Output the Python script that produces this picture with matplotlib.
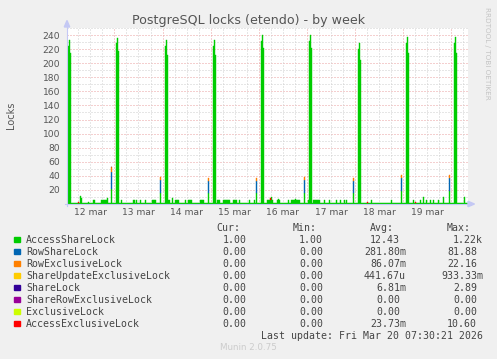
import numpy as np
import matplotlib
matplotlib.use('Agg')
import matplotlib.pyplot as plt
from matplotlib.patches import Polygon, Rectangle
from matplotlib.lines import Line2D

# ---------------- data ----------------
day_labels = ['12 mar', '13 mar', '14 mar', '15 mar', '16 mar', '17 mar', '18 mar', '19 mar']
day_noon_hours = [12, 36, 60, 84, 108, 132, 156, 180]          # hours since 12 mar 00:00
y_ticks = [20, 40, 60, 80, 100, 120, 140, 160, 180, 200, 220, 240]

access_base = 1.0
# AccessShareLock: nightly peaks and small daytime bumps (hour, value)
access_hours = [1.0, 1.5, 2.0, 25.0, 25.5, 26.0, 49.5, 50.0, 50.5, 73.5, 74.0, 74.5,
                97.5, 98.0, 98.5, 121.5, 122.0, 122.5, 145.5, 146.0, 146.5,
                169.5, 170.0, 170.5, 193.5, 194.0, 194.5,
                7.0, 7.5, 11.0, 13.5, 14.0, 17.5, 18.0, 18.5, 19.0, 19.5, 20.0, 20.5,
                27.5, 33.5, 34.0, 35.0, 37.0, 39.5, 43.0, 43.5, 44.0, 44.5,
                51.0, 51.5, 53.0, 54.5, 55.0, 55.5, 56.0, 59.5, 61.0, 61.5, 62.0, 62.5,
                67.0, 67.5, 68.0, 68.5, 75.5, 76.0, 76.5, 78.5, 79.0, 79.5, 80.0, 80.5, 81.0, 81.5,
                83.5, 84.0, 84.5, 85.0, 86.5, 91.5, 94.0,
                100.5, 101.0, 101.5, 102.0, 102.5, 103.0, 105.5, 106.0, 106.5,
                111.0, 112.5, 113.0, 113.5, 114.0, 114.5, 115.0, 115.5, 116.0, 116.5, 121.0,
                123.5, 124.0, 124.5, 125.0, 125.5, 126.0, 126.5, 129.0, 131.5, 135.0, 137.0,
                139.0, 140.0, 152.0, 162.0, 173.0, 176.5, 178.0, 179.5, 181.5, 183.0, 185.5,
                188.0, 198.5]
access_values = [224, 233, 215, 228, 236, 218, 225, 233, 212, 225, 233, 212,
                 232, 240, 222, 232, 240, 222, 220, 228, 205,
                 229, 237, 215, 229, 237, 215,
                 11, 8, 3, 5, 5, 5, 5, 5, 5, 5, 6, 8,
                 5, 5, 5, 5, 5, 5, 5, 6, 5, 5,
                 5, 5, 9, 5, 5, 5, 5, 6, 5, 5, 5, 5,
                 6, 6, 6, 6, 5, 5, 5, 5, 5, 5, 5, 5, 5, 5,
                 5, 5, 5, 5, 5, 6, 5,
                 6, 6, 6, 6, 10, 6, 5, 7, 5,
                 5, 5, 5, 5, 5, 7, 5, 5, 5, 5, 5,
                 5, 5, 5, 5, 5, 5, 6, 5, 5, 5, 5,
                 5, 5, 5, 5, 5, 5, 10, 6, 5, 6, 5,
                 10, 10]
# late-evening maintenance peaks (stacked on AccessShareLock)
maint_hours = [22.5, 47.0, 71.0, 95.0, 119.0, 143.0, 167.0, 191.0]
maint_access = [22, 16, 16, 16, 16, 16, 18, 18]
rowshare_values = [24, 18, 17, 17, 18, 17, 19, 19]
rowexcl_values = [6, 4, 4, 4, 4, 4, 4, 4]
sharelock_values = [1, 0, 0, 0, 0, 0, 0, 0]
accessexcl_hours = [6.0, 102.0, 150.0, 174.0]
accessexcl_values = [2, 2, 2, 2]

names = ['AccessShareLock', 'RowShareLock', 'RowExclusiveLock', 'ShareUpdateExclusiveLock',
         'ShareLock', 'ShareRowExclusiveLock', 'ExclusiveLock', 'AccessExclusiveLock']
colors = ['#00CC00', '#0066B3', '#FF8000', '#FFCC00', '#330099', '#990099', '#CCFF00', '#FF0000']
cur_vals = ['1.00', '0.00', '0.00', '0.00', '0.00', '0.00', '0.00', '0.00']
min_vals = ['1.00', '0.00', '0.00', '0.00', '0.00', '0.00', '0.00', '0.00']
avg_vals = ['12.43', '281.80m', '86.07m', '441.67u', '6.81m', '0.00', '0.00', '23.73m']
max_vals = ['1.22k', '81.88', '22.16', '933.33m', '2.89', '0.00', '0.00', '10.60']

# ---------------- build series ----------------
times = np.arange(0.5, 200.01, 0.5)
n = len(times)
def idx(h):
    return int(round((h - 0.5) / 0.5))

series = [np.zeros(n) for _ in names]
series[0][:] = access_base
for h, v in zip(access_hours, access_values):
    series[0][idx(h)] = v
for h, a, r, e, s in zip(maint_hours, maint_access, rowshare_values, rowexcl_values, sharelock_values):
    series[0][idx(h)] = a
    series[1][idx(h)] = r
    series[2][idx(h)] = e
    series[4][idx(h)] = s
for h, v in zip(accessexcl_hours, accessexcl_values):
    series[7][idx(h)] = v

# ---------------- figure ----------------
W, H = 497, 359
BG = '#F0F0F0'
fig = plt.figure(figsize=(W / 100, H / 100), dpi=100, facecolor=BG)
def fx(x):
    return x / W
def fy(y):
    return 1 - y / H

L, R, B, T = 67, 468, 204, 28
ax = fig.add_axes([fx(L), fy(B), fx(R) - fx(L), fy(T) - fy(B)])
ax.set_facecolor('white')
xmin, xmax = 0.35, 200.35
ax.set_xlim(xmin, xmax)
ax.set_ylim(0, 250)

# grid
minor_c = '#CFCFCF'
major_c = '#EBA0A0'
ls = (0, (1, 2))
for v in range(10, 251, 10):
    ax.axhline(v, color=major_c if v % 20 == 0 else minor_c, lw=0.72, ls=ls, zorder=1)
for h in range(6, 201, 6):
    ax.axvline(h, color=major_c if h % 24 == 0 else minor_c, lw=0.72, ls=ls, zorder=1)

# stacked areas (one column per 30-minute sample)
lower = np.zeros(n)
for s, c in zip(series, colors):
    m = s > 0
    if m.any():
        ax.bar(times[m], s[m], width=0.5, bottom=lower[m], color=c, edgecolor=c,
               linewidth=0.3, zorder=3)
    lower = lower + s

for sp in ax.spines.values():
    sp.set_visible(False)

ax.set_yticks(y_ticks)
ax.set_yticklabels([str(v) for v in y_ticks])
ax.set_xticks(day_noon_hours)
ax.set_xticklabels(day_labels)
ax.tick_params(axis='both', length=0, labelsize=6.6, colors='#555555')
ax.tick_params(axis='y', pad=5)
ax.tick_params(axis='x', pad=3)

# axis lines and arrows
axis_c = '#C4C8F4'
fig.add_artist(Line2D([fx(L), fx(L)], [fy(B + 2), fy(25)], color=axis_c, lw=0.8))
fig.add_artist(Line2D([fx(L - 2), fx(470)], [fy(B), fy(B)], color=axis_c, lw=0.8))
fig.add_artist(Polygon([[fx(64.3), fy(27)], [fx(69.7), fy(27)], [fx(67), fy(20.5)]],
                       closed=True, color=axis_c, transform=fig.transFigure))
fig.add_artist(Polygon([[fx(468), fy(201.3)], [fx(468), fy(206.7)], [fx(474.5), fy(204)]],
                       closed=True, color=axis_c, transform=fig.transFigure))

# titles
fig.text(0.5, fy(24), 'PostgreSQL locks (etendo) - by week', ha='center', va='baseline',
         fontsize=9.1, color='#555555')
fig.text(fx(11), fy(115), 'Locks', rotation=90, ha='center', va='center',
         fontsize=7, color='#555555')
fig.text(fx(487), fy(53), 'RRDTOOL / TOBI OETIKER', rotation=270, ha='center', va='center',
         fontsize=5.2, color='#C4C4C4')

# legend table
mono = 'DejaVu Sans Mono'
fs = 7.1
cw = 5.97
txt_c = '#444444'
col_end = [252.7, 329.0, 406.0, 483.0]
headers = ['Cur:', 'Min:', 'Avg:', 'Max:']
y0 = 227.7
for ce, hd in zip(col_end, headers):
    fig.text(fx(ce - 2 * cw), fy(y0), hd, ha='right', va='center', family=mono, fontsize=fs, color=txt_c)
for i, (nm, c) in enumerate(zip(names, colors)):
    y = y0 + 12 * (i + 1)
    fig.add_artist(Rectangle((fx(14.3), fy(y + 2.6)), fx(5.2), 5.2 / H, color=c,
                             transform=fig.transFigure))
    fig.text(fx(26), fy(y), nm, ha='left', va='center', family=mono, fontsize=fs, color=txt_c)
    for ce, vals in zip(col_end, [cur_vals, min_vals, avg_vals, max_vals]):
        v = vals[i]
        end = ce if v[-1].isalpha() else ce - cw
        fig.text(fx(end), fy(y), v, ha='right', va='center', family=mono, fontsize=fs, color=txt_c)
fig.text(fx(483), fy(y0 + 12 * 9), 'Last update: Fri Mar 20 07:30:21 2026', ha='right', va='center',
         family=mono, fontsize=fs, color=txt_c)
fig.text(0.5, fy(347.7), 'Munin 2.0.75', ha='center', va='center', fontsize=6.3, color='#CCCCCC')

fig.savefig('out.png', dpi=100, facecolor=BG)
